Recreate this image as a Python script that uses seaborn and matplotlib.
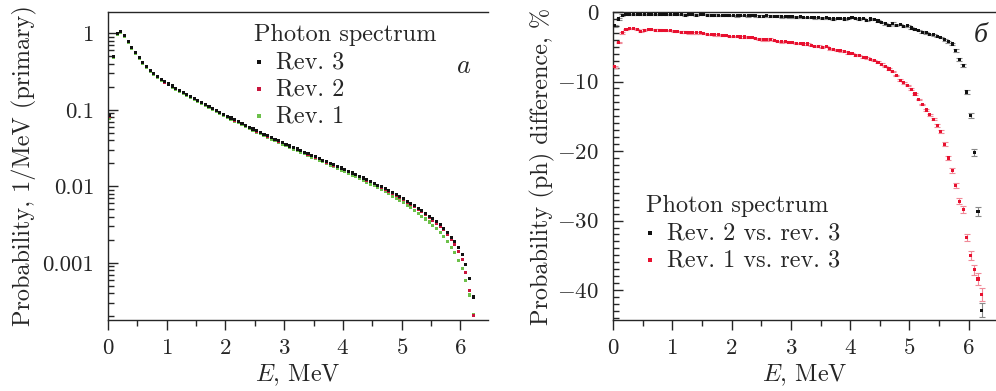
import numpy as np
import pandas as pd
import matplotlib
matplotlib.use("Agg")
import matplotlib.pyplot as plt
import matplotlib.ticker as mticker
import seaborn as sns

# ---------------- data ----------------
energy = [0.031, 0.094, 0.156, 0.219, 0.281, 0.344, 0.406, 0.469, 0.531, 0.594,
          0.656, 0.719, 0.781, 0.844, 0.906, 0.969, 1.031, 1.094, 1.156, 1.219,
          1.281, 1.344, 1.406, 1.469, 1.531, 1.594, 1.656, 1.719, 1.781, 1.844,
          1.906, 1.969, 2.031, 2.094, 2.156, 2.219, 2.281, 2.344, 2.406, 2.469,
          2.531, 2.594, 2.656, 2.719, 2.781, 2.844, 2.906, 2.969, 3.031, 3.094,
          3.156, 3.219, 3.281, 3.344, 3.406, 3.469, 3.531, 3.594, 3.656, 3.719,
          3.781, 3.844, 3.906, 3.969, 4.031, 4.094, 4.156, 4.219, 4.281, 4.344,
          4.406, 4.469, 4.531, 4.594, 4.656, 4.719, 4.781, 4.844, 4.906, 4.969,
          5.031, 5.094, 5.156, 5.219, 5.281, 5.344, 5.406, 5.469, 5.531, 5.594,
          5.656, 5.719, 5.781, 5.844, 5.906, 5.969, 6.031, 6.094, 6.156, 6.219]

# Rev. 3 photon spectrum, 1/MeV (primary)
spec_rev3 = [0.085, 0.50, 1.00, 1.06, 0.93, 0.78, 0.66, 0.56, 0.48, 0.42,
             0.37, 0.33, 0.30, 0.275, 0.252, 0.232, 0.218, 0.205, 0.192, 0.181,
             0.170, 0.160, 0.150, 0.141, 0.132, 0.125, 0.117, 0.111, 0.104, 0.0986,
             0.0929, 0.0877, 0.0828, 0.0783, 0.0741, 0.0701, 0.0664, 0.0628, 0.0594, 0.0562,
             0.0533, 0.0507, 0.0482, 0.0458, 0.0435, 0.0413, 0.0393, 0.0373, 0.0355, 0.0338,
             0.0323, 0.0308, 0.0294, 0.0280, 0.0267, 0.0255, 0.0243, 0.0231, 0.0221, 0.0210,
             0.0200, 0.0191, 0.0182, 0.0174, 0.0166, 0.0158, 0.0150, 0.0143, 0.0136, 0.0129,
             0.0122, 0.0116, 0.0110, 0.0104, 0.00986, 0.00931, 0.00879, 0.00828, 0.00780, 0.00733,
             0.00687, 0.00643, 0.00600, 0.00558, 0.00519, 0.00481, 0.00444, 0.00410, 0.00378, 0.00345,
             0.00315, 0.00285, 0.00252, 0.00218, 0.00190, 0.00160, 0.00130, 0.00095, 0.00062, 0.00036]

# Differences (%) relative to rev. 3
diff_rev2 = [-2.0, -1.0, -0.45, -0.4, -0.35, -0.4, -0.4, -0.35, -0.4, -0.4,
             -0.35, -0.4, -0.4, -0.4, -0.35, -0.4, -0.35, -0.4, -0.4, -0.45,
             -0.4, -0.4, -0.45, -0.4, -0.4, -0.45, -0.5, -0.45, -0.5, -0.5,
             -0.45, -0.5, -0.5, -0.55, -0.5, -0.5, -0.55, -0.5, -0.55, -0.6,
             -0.6, -0.55, -0.6, -0.65, -0.6, -0.7, -0.65, -0.7, -0.7, -0.75,
             -0.7, -0.8, -0.75, -0.8, -0.85, -0.8, -0.9, -0.85, -0.9, -1.0,
             -0.9, -0.95, -1.0, -0.9, -0.8, -0.9, -1.0, -0.9, -1.2, -1.0,
             -1.1, -1.3, -1.5, -1.7, -1.9, -1.6, -1.9, -1.8, -2.1, -2.0,
             -2.3, -2.5, -2.7, -2.9, -3.0, -3.2, -3.3, -3.5, -3.7, -4.0,
             -4.3, -4.6, -5.5, -6.8, -7.7, -11.5, -14.9, -20.2, -28.7, -42.9]
err_rev2 = [0.1] * 90 + [0.15, 0.15, 0.2, 0.2, 0.25, 0.3, 0.4, 0.5, 0.7, 1.0]

diff_rev1 = [-7.9, -4.4, -3.0, -2.5, -2.4, -2.4, -2.5, -2.8, -2.6, -2.5,
             -2.5, -2.6, -2.6, -2.7, -2.7, -2.7, -2.8, -2.8, -2.9, -2.9,
             -3.0, -3.0, -3.0, -3.0, -3.1, -3.2, -3.2, -3.3, -3.3, -3.4,
             -3.4, -3.5, -3.5, -3.5, -3.6, -3.6, -3.7, -3.7, -3.8, -3.9,
             -4.0, -4.0, -3.9, -4.1, -4.2, -4.3, -4.2, -4.4, -4.4, -4.5,
             -4.5, -4.6, -4.6, -4.8, -5.0, -4.9, -5.1, -5.0, -5.3, -5.4,
             -5.5, -5.6, -5.7, -5.9, -6.0, -6.2, -6.3, -6.5, -6.6, -6.8,
             -7.0, -7.2, -7.5, -7.8, -8.2, -8.6, -9.1, -9.8, -10.2, -10.6,
             -11.1, -11.8, -12.6, -13.3, -14.1, -14.8, -15.4, -16.3, -17.2, -19.0,
             -21.0, -22.8, -24.9, -27.2, -28.4, -32.4, -35.0, -37.1, -38.4, -40.6]
err_rev1 = [0.1] * 84 + [0.15, 0.15, 0.2, 0.2, 0.2, 0.25, 0.3, 0.3, 0.35, 0.4,
                         0.45, 0.5, 0.6, 0.7, 0.8, 0.9]

# spectra of the older revisions follow from the differences
spec_rev2 = [s * (1 + d / 100.0) for s, d in zip(spec_rev3, diff_rev2)]
spec_rev1 = [s * (1 + d / 100.0) for s, d in zip(spec_rev3, diff_rev1)]

x_ticks = [0, 1, 2, 3, 4, 5, 6]
left_yticks = [1, 0.1, 0.01, 0.001]
left_yticklabels = ["1", "0.1", "0.01", "0.001"]
right_yticks = [0, -10, -20, -30, -40]
right_yticklabels = ["$0$", "$-10$", "$-20$", "$-30$", "$-40$"]

df_spec = pd.DataFrame({
    "E": energy * 3,
    "P": spec_rev1 + spec_rev2 + spec_rev3,
    "rev": ["Rev. 1"] * len(energy) + ["Rev. 2"] * len(energy) + ["Rev. 3"] * len(energy),
})
df_diff = pd.DataFrame({
    "E": energy * 2,
    "D": diff_rev1 + diff_rev2,
    "cmp": ["Rev. 1 vs. rev. 3"] * len(energy) + ["Rev. 2 vs. rev. 3"] * len(energy),
})

# ---------------- style ----------------
sns.set_style("ticks")
plt.rcParams["font.family"] = ["cmr10", "DejaVu Serif"]
plt.rcParams["mathtext.fontset"] = "cm"
plt.rcParams["axes.formatter.use_mathtext"] = True
plt.rcParams["font.size"] = 17
plt.rcParams["axes.linewidth"] = 1.0

col_black = "#111111"
col_red2 = "#c8143c"
col_green = "#6cc04a"
col_red = "#e8102f"
MS = 5
LBL = 17.5

fig = plt.figure(figsize=(9.96, 3.91), dpi=100)
W, H = 996.0, 391.0
axL = fig.add_axes([108 / W, (H - 320) / H, 380 / W, 308 / H])
axR = fig.add_axes([613 / W, (H - 320) / H, 383 / W, 308 / H])

# ---- left panel: spectra ----
pal_spec = {"Rev. 1": col_green, "Rev. 2": col_red2, "Rev. 3": col_black}
sns.scatterplot(data=df_spec, x="E", y="P", hue="rev", palette=pal_spec,
                hue_order=["Rev. 1", "Rev. 2", "Rev. 3"],
                marker="s", s=MS, linewidth=0, ax=axL, legend=False)
axL.set_yscale("log")
axL.set_xlim(0, 6.47)
axL.set_ylim(1.8e-4, 1.9)
axL.set_yticks(left_yticks)
axL.yaxis.set_major_formatter(mticker.FixedFormatter(left_yticklabels))
axL.yaxis.set_minor_locator(mticker.LogLocator(base=10, subs=np.arange(2, 10)))
axL.yaxis.set_minor_formatter(mticker.NullFormatter())
axL.set_ylabel("Probability, 1/MeV (primary)", labelpad=4, fontsize=LBL)
axL.text(0.935, 0.825, "$a$", transform=axL.transAxes, fontsize=19,
         ha="center", va="center")

h3 = axL.scatter([], [], marker="s", s=MS, color=col_black, linewidth=0, label="Rev. 3")
h2 = axL.scatter([], [], marker="s", s=MS, color=col_red2, linewidth=0, label="Rev. 2")
h1 = axL.scatter([], [], marker="s", s=MS, color=col_green, linewidth=0, label="Rev. 1")
legL = axL.legend(handles=[h3, h2, h1], title="Photon spectrum", frameon=False,
                  loc="upper left", bbox_to_anchor=(0.385, 0.96),
                  handlelength=0.4, handletextpad=0.5, labelspacing=0.2,
                  borderpad=0, borderaxespad=0, alignment="left",
                  fontsize=LBL, title_fontsize=LBL)

# ---- right panel: differences ----
pal_diff = {"Rev. 1 vs. rev. 3": col_red, "Rev. 2 vs. rev. 3": col_black}
axR.errorbar(energy, diff_rev1, yerr=err_rev1, fmt="none", ecolor="#f08a98",
             elinewidth=0.8, capsize=2, capthick=0.8, zorder=1)
axR.errorbar(energy, diff_rev2, yerr=err_rev2, fmt="none", ecolor="#888888",
             elinewidth=0.8, capsize=2, capthick=0.8, zorder=1)
sns.scatterplot(data=df_diff, x="E", y="D", hue="cmp", palette=pal_diff,
                hue_order=["Rev. 1 vs. rev. 3", "Rev. 2 vs. rev. 3"],
                marker="s", s=MS, linewidth=0, ax=axR, legend=False, zorder=3)
axR.set_xlim(0, 6.46)
axR.set_ylim(-44.3, 0)
axR.set_yticks(right_yticks)
axR.yaxis.set_major_formatter(mticker.FixedFormatter(right_yticklabels))
axR.yaxis.set_minor_locator(mticker.MultipleLocator(1))
axR.set_ylabel("Probability (ph) difference, %", labelpad=2, fontsize=LBL)
axR.text(0.96, 0.925, "б", transform=axR.transAxes, fontsize=20,
         family="Liberation Serif", style="italic", ha="center", va="center")

g2 = axR.scatter([], [], marker="s", s=MS, color=col_black, linewidth=0,
                 label="Rev. 2 vs. rev. 3")
g1 = axR.scatter([], [], marker="s", s=MS, color=col_red, linewidth=0,
                 label="Rev. 1 vs. rev. 3")
legR = axR.legend(handles=[g2, g1], title="Photon spectrum", frameon=False,
                  loc="upper left", bbox_to_anchor=(0.085, 0.405),
                  handlelength=0.4, handletextpad=0.5, labelspacing=0.2,
                  borderpad=0, borderaxespad=0, alignment="left",
                  fontsize=LBL, title_fontsize=LBL)

for ax in (axL, axR):
    ax.set_xticks(x_ticks)
    ax.xaxis.set_major_formatter(mticker.FixedFormatter([f"${t}$" for t in x_ticks]))
    ax.xaxis.set_minor_locator(mticker.MultipleLocator(0.5))
    ax.set_xlabel("$E$, MeV", labelpad=3, fontsize=LBL)
    ax.spines["right"].set_visible(False)
    ax.spines["top"].set_visible(True)
    ax.tick_params(axis="x", which="major", direction="out", length=7, width=1,
                   pad=6, labelsize=16.5)
    ax.tick_params(axis="x", which="minor", direction="out", length=4, width=1)
    ax.tick_params(axis="y", which="major", direction="in", length=7, width=1,
                   pad=10, labelsize=16.5)
    ax.tick_params(axis="y", which="minor", direction="in", length=4, width=1)

fig.savefig("out.png", dpi=100)
